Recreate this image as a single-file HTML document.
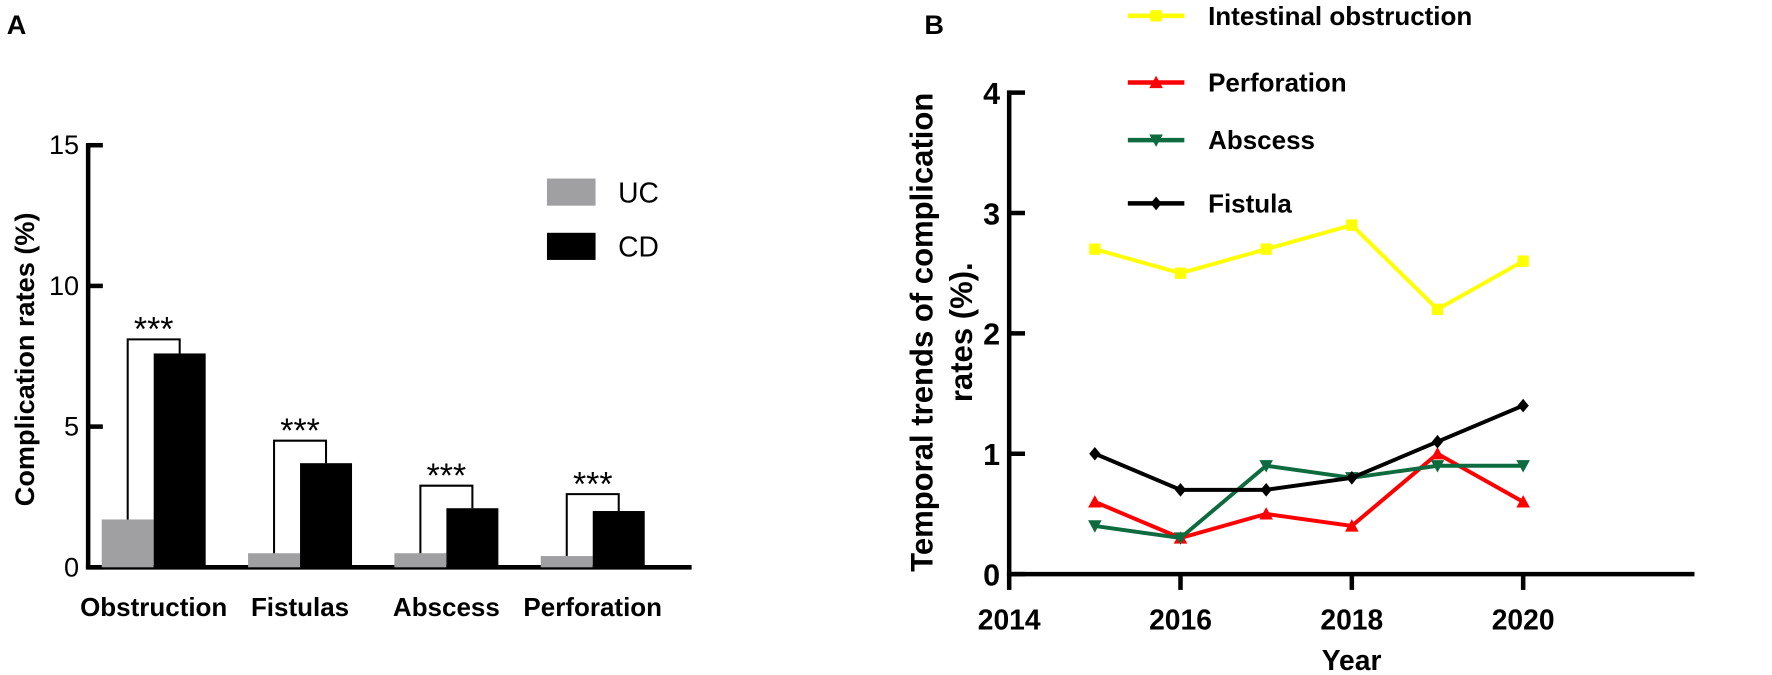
<!DOCTYPE html>
<html><head><meta charset="utf-8"><style>
body{margin:0;background:#fff}
svg{display:block;font-family:"Liberation Sans",Arial,sans-serif}
</style></head><body>
<svg id="c" width="1772" height="675" viewBox="0 0 1568 597.3" preserveAspectRatio="none">
<text x="6" y="30" font-size="24" font-weight="bold">A</text>
<text x="818" y="30" font-size="24" font-weight="bold">B</text>
<g id="A"></g>
<g id="B"></g>
</svg>
<script>
const catsA=["Obstruction","Fistulas","Abscess","Perforation"];
const ucVals=[1.7,0.5,0.5,0.4];
const cdVals=[7.6,3.7,2.1,2.0];
const bracketTops=[8.1,4.5,2.9,2.6];
const yTicksA=[0,5,10,15];
const years=[2015,2016,2017,2018,2019,2020];
const xTicksB=[2014,2016,2018,2020];
const yTicksB=[0,1,2,3,4];
const obstruction=[2.7,2.5,2.7,2.9,2.2,2.6];
const perforation=[0.6,0.3,0.5,0.4,1.0,0.6];
const abscess=[0.4,0.3,0.9,0.8,0.9,0.9];
const fistula=[1.0,0.7,0.7,0.8,1.1,1.4];
const NS="http://www.w3.org/2000/svg";
function mk(p,t,a,txt){const e=document.createElementNS(NS,t);for(const k in a)e.setAttribute(k,a[k]);if(txt!==undefined)e.textContent=txt;p.appendChild(e);return e;}
// Chart A
const A=document.getElementById('A');
const ax0=78,ay0=502,ayU=24.9;
const yA=v=>ay0-v*ayU;
const gx=i=>136+i*129.5;
let e;
e=mk(A,'line',{x1:ax0,y1:yA(15)-2,x2:ax0,y2:ay0,stroke:'#000','stroke-width':4});

e=mk(A,'line',{x1:ax0-2,y1:ay0,x2:612,y2:ay0,stroke:'#000','stroke-width':4});

yTicksA.forEach(t=>{
 e=mk(A,'line',{x1:ax0,y1:yA(t),x2:ax0+13,y2:yA(t),stroke:'#000','stroke-width':4});
 
 e=mk(A,'text',{x:ax0-8,y:yA(t)+8,'font-size':24,'text-anchor':'end'},t);
 
});
catsA.forEach((c,i)=>{
 const cx=gx(i);
 e=mk(A,'rect',{x:cx-46,y:yA(ucVals[i]),width:46,height:ucVals[i]*ayU,fill:'#a0a0a2'});
 
 e=mk(A,'rect',{x:cx,y:yA(cdVals[i]),width:46,height:cdVals[i]*ayU,fill:'#000'});
 
 const bt=yA(bracketTops[i]);
 e=mk(A,'polyline',{points:`${cx-23},${yA(ucVals[i])} ${cx-23},${bt} ${cx+23},${bt} ${cx+23},${yA(cdVals[i])}`,fill:'none',stroke:'#000','stroke-width':1.8});
 
 e=mk(A,'text',{x:cx,y:bt+1,'font-size':30,'text-anchor':'middle'},'***');
 
 e=mk(A,'text',{x:cx,y:545,'font-size':23,'font-weight':'bold','text-anchor':'middle'},c);
 
});
e=mk(A,'text',{x:0,y:0,'font-size':24,'font-weight':'bold','text-anchor':'middle',transform:'translate(30,318) rotate(-90)'},'Complication rates (%)');

[['UC','#a0a0a2',158],['CD','#000',206]].forEach(l=>{
 e=mk(A,'rect',{x:484,y:l[2],width:43,height:24,fill:l[1]});
 
 e=mk(A,'text',{x:547,y:l[2]+21,'font-size':25},l[0]);
 
});
// Chart B
const B=document.getElementById('B');
const bx0=893,by0=508,byU=106.5,bxU=75.8;
const xB=v=>bx0+(v-2014)*bxU;
const yB=v=>by0-v*byU;
e=mk(B,'line',{x1:bx0,y1:yB(4)-2,x2:bx0,y2:by0,stroke:'#000','stroke-width':4});

e=mk(B,'line',{x1:bx0-2,y1:by0,x2:xB(2022),y2:by0,stroke:'#000','stroke-width':4});

yTicksB.forEach(t=>{
 e=mk(B,'line',{x1:bx0,y1:yB(t),x2:bx0+14,y2:yB(t),stroke:'#000','stroke-width':4});
 
 e=mk(B,'text',{x:bx0-8,y:yB(t)+10,'font-size':27,'font-weight':'bold','text-anchor':'end'},t);
 
});
xTicksB.forEach(t=>{
 e=mk(B,'line',{x1:xB(t),y1:by0,x2:xB(t),y2:by0+14,stroke:'#000','stroke-width':4});
 
 e=mk(B,'text',{x:xB(t),y:557,'font-size':25,'font-weight':'bold','text-anchor':'middle'},t);
 
});
e=mk(B,'text',{x:1196,y:593,'font-size':25,'font-weight':'bold','text-anchor':'middle'},'Year');

e=mk(B,'text',{x:0,y:0,'font-size':27.5,'font-weight':'bold','text-anchor':'middle',transform:'translate(825,294) rotate(-90)'},'Temporal trends of complication');

e=mk(B,'text',{x:0,y:0,'font-size':27.5,'font-weight':'bold','text-anchor':'middle',transform:'translate(860,294) rotate(-90)'},'rates (%).');

const series=[['Intestinal obstruction',obstruction,'#ffff00','sq',14],['Perforation',perforation,'#ff0000','up',73],['Abscess',abscess,'#0e6b3f','down',124],['Fistula',fistula,'#000','dia',180]];
function marker(g,x,y,type,col){
 let p;
 if(type==='sq')p=mk(g,'rect',{x:x-5,y:y-5,width:10,height:10,fill:col});
 else if(type==='up')p=mk(g,'polygon',{points:`${x},${y-6} ${x-6},${y+5} ${x+6},${y+5}`,fill:col});
 else if(type==='down')p=mk(g,'polygon',{points:`${x},${y+6} ${x-6},${y-5} ${x+6},${y-5}`,fill:col});
 else p=mk(g,'polygon',{points:`${x},${y-6} ${x+5},${y} ${x},${y+6} ${x-5},${y}`,fill:col});
 
 
}
series.forEach(s=>{
 const pts=years.map((yr,i)=>xB(yr)+','+yB(s[1][i])).join(' ');
 e=mk(B,'polyline',{points:pts,fill:'none',stroke:s[2],'stroke-width':3.5});
 
 years.forEach((yr,i)=>marker(B,xB(yr),yB(s[1][i]),s[3],s[2]));
 e=mk(B,'line',{x1:998,y1:s[4],x2:1048,y2:s[4],stroke:s[2],'stroke-width':4});
 
 marker(B,1023,s[4],s[3],s[2]);
 e=mk(B,'text',{x:1069,y:s[4]+8,'font-size':23,'font-weight':'bold'},s[0]);
 
});
</script>
</body></html>
